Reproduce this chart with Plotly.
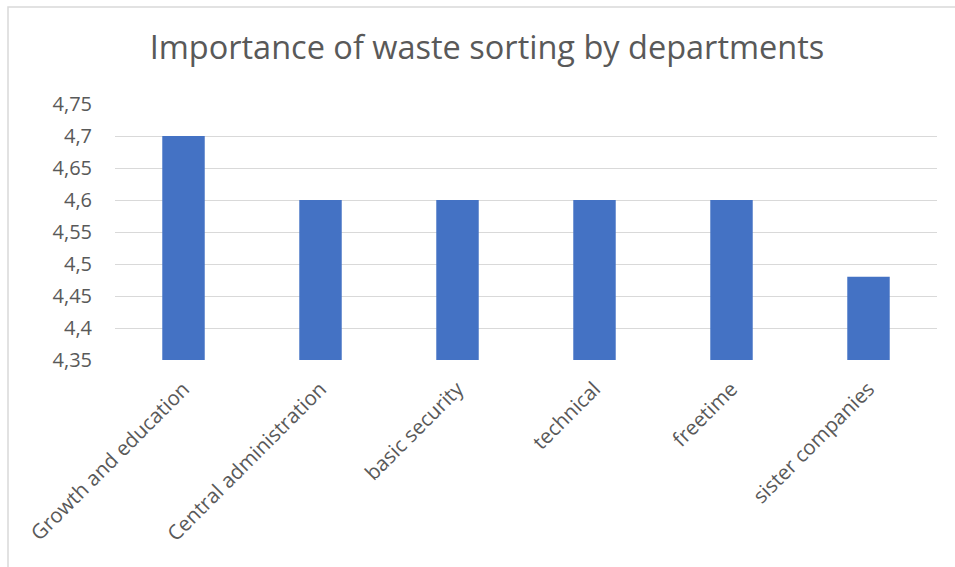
import plotly.graph_objects as go

categories = ["Growth and education", "Central administration", "basic security",
              "technical", "freetime", "sister companies"]
values = [4.70, 4.60, 4.60, 4.60, 4.60, 4.48]
tick_vals = [4.35, 4.40, 4.45, 4.50, 4.55, 4.60, 4.65, 4.70, 4.75]
tick_text = ["4,35", "4,4", "4,45", "4,5", "4,55", "4,6", "4,65", "4,7", "4,75"]

W, H = 955, 567
ml, mr, mt, mb = 115, 18, 104, 207
pw, ph = W - ml - mr, H - mt - mb

fig = go.Figure(go.Bar(
    x=categories, y=values, marker=dict(color="#4472C4", line=dict(width=0)),
))

fig.update_layout(
    width=W, height=H,
    margin=dict(l=ml, r=mr, t=mt, b=mb),
    paper_bgcolor="white", plot_bgcolor="white",
    bargap=0.69,
    showlegend=False,
    font=dict(family="Open Sans, Liberation Sans, sans-serif", color="#595959"),
    title=dict(text="Importance of waste sorting by departments",
               x=487 / W, xref="container", xanchor="center",
               y=1 - 48 / H, yref="container", yanchor="middle",
               font=dict(size=32.5, color="#595959")),
    xaxis=dict(tickangle=-45, tickfont=dict(size=20.5, color="#595959"),
               showline=False, ticks="", showgrid=False, ticklabelstandoff=12),
    yaxis=dict(range=[4.35, 4.75], tickvals=tick_vals, ticktext=tick_text,
               tickfont=dict(size=20, color="#595959"),
               showgrid=True, gridcolor="#D9D9D9", gridwidth=1,
               zeroline=False, showline=False, ticks="", ticklabelstandoff=22),
    shapes=[dict(type="rect", xref="paper", yref="paper",
                 x0=(8 - ml) / pw, x1=(975 - ml) / pw,
                 y0=(mt + ph - 590) / ph, y1=(mt + ph - 7) / ph,
                 line=dict(color="#D9D9D9", width=1.5), layer="below")],
)
fig.write_html("out.html")
